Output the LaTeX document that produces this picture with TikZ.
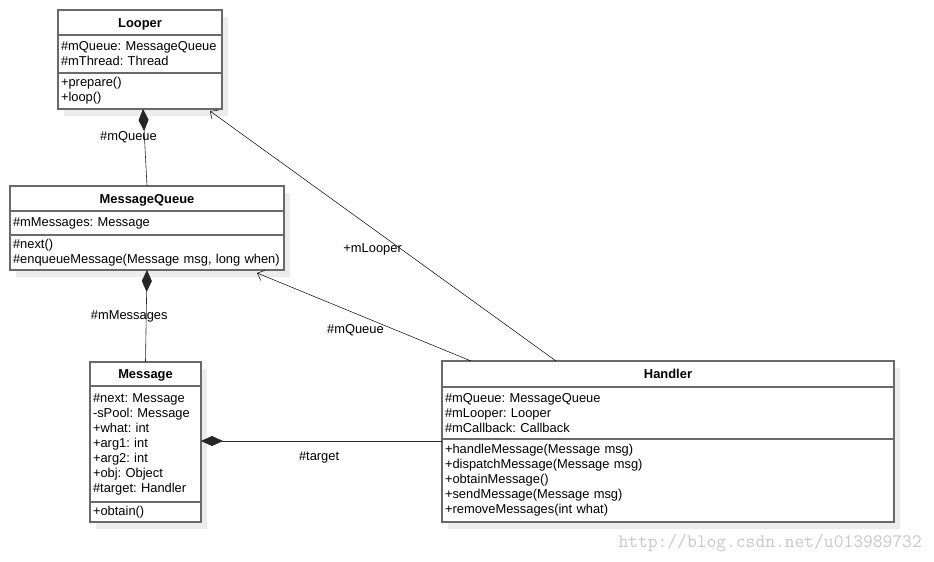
\documentclass[tikz,border=0pt]{standalone}
\usepackage{fontspec}
\setmainfont{Liberation Sans}
\usetikzlibrary{positioning,arrows.meta,shadows}
\definecolor{boxline}{HTML}{6A6A6A}
\definecolor{shade}{HTML}{ECECEC}
\definecolor{wmgray}{HTML}{C8C8C8}
\frenchspacing
\tikzset{
  umlfont/.style={font=\fontsize{12.9}{15}\selectfont},
  umlshadow/.style={drop shadow={shadow xshift=6pt, shadow yshift=-7pt, fill=shade, opacity=1}},
  classhead/.style={font=\fontsize{12.9}{15}\selectfont\bfseries, draw=boxline, line width=1.2pt,
    fill=white, inner sep=0pt, outer sep=0pt, text height=9.3pt, text depth=0pt, anchor=north west, umlshadow},
  classpart/.style={umlfont, draw=boxline, line width=1.2pt, fill=white, inner xsep=3pt,
    inner ysep=0pt, outer sep=0pt, align=left, below=0pt of #1, umlshadow},
  compose/.style={{Diamond[length=22pt,width=10pt]}-, line width=0.6pt, draw=black!85},
  navig/.style={-{Straight Barb[length=6pt,width=11pt]}, line width=0.5pt},
  lbl/.style={umlfont}
}
\begin{document}
\begin{tikzpicture}[x=1pt,y=-1pt]
\useasboundingbox (0,0) rectangle (934,562);
\node[classhead, minimum width=164pt, minimum height=25pt] (looper) at (58,10) {Looper};
\node[classpart=looper, text width=158pt, minimum height=38pt] (looperattr) {\#mQueue: MessageQueue\\\#mThread: Thread};
\node[classpart=looperattr, text width=158pt, minimum height=36pt] (loopermeth) {+prepare()\\+loop()};

\node[classhead, minimum width=274pt, minimum height=25pt] (queue) at (10,186) {MessageQueue};
\node[classpart=queue, text width=268pt, minimum height=24pt] (queueattr) {\#mMessages: Message};
\node[classpart=queueattr, text width=268pt, minimum height=35pt] (queuemeth) {\#next()\\\#enqueueMessage(Message msg, long when)};

\node[classhead, minimum width=111pt, minimum height=24pt] (message) at (90,362) {Message};
\node[classpart=message, text width=105pt, minimum height=116pt] (messageattr) {\#next: Message\\-sPool: Message\\+what: int\\+arg1: int\\+arg2: int\\+obj: Object\\\#target: Handler};
\node[classpart=messageattr, text width=105pt, minimum height=20pt] (messagemeth) {+obtain()};

\node[classhead, minimum width=452pt, minimum height=26pt] (handler) at (442,361) {Handler};
\node[classpart=handler, text width=446pt, minimum height=52pt] (handlerattr) {\#mQueue: MessageQueue\\\#mLooper: Looper\\\#mCallback: Callback};
\node[classpart=handlerattr, text width=446pt, minimum height=83pt] (handlermeth) {+handleMessage(Message msg)\\+dispatchMessage(Message msg)\\+obtainMessage()\\+sendMessage(Message msg)\\+removeMessages(int what)};

\draw[compose] ([xshift=3pt]loopermeth.south) -- (queue.north) node[lbl, pos=.37, xshift=-16pt] (lblqueue) {\#mQueue};
\draw[compose] (queuemeth.south) -- (message.north) node[lbl, pos=.5, xshift=-17pt] (lblmsgs) {\#mMessages};
\draw[compose] ([yshift=-2pt]handlermeth.north west -| messageattr.east) -- ([yshift=-2pt]handlermeth.north west) node[lbl, pos=.49, yshift=-16pt] (lbltarget) {\#target};
\draw[navig] ([xshift=29pt]handler.north west) -- ([xshift=-27pt,yshift=-3pt]queuemeth.south east) node[lbl, pos=.54, yshift=-17pt] (lblhqueue) {\#mQueue};
\draw[navig] ([xshift=114pt]handler.north west) -- ([xshift=-12pt,yshift=-2pt]loopermeth.south east) node[lbl, pos=.53, yshift=-21pt] (lbllooper) {+mLooper};

\node[font=\ttfamily\fontsize{19}{21}\selectfont, text=wmgray, anchor=base east, inner sep=0pt] (watermark) at (922,547) {http://blog.csdn.net/u013989732};
\end{tikzpicture}
\end{document}
